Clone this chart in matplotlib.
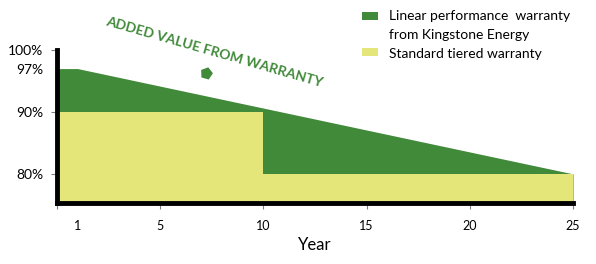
import matplotlib
matplotlib.use("Agg")
import matplotlib.pyplot as plt
from matplotlib.patches import Rectangle

# Data
linear_years = [0, 1, 25]
linear_values = [97, 97, 80]
tiered_years = [0, 10, 10, 25]
tiered_values = [90, 90, 80, 80]
x_tick_pos = [0, 5, 10, 15, 20, 25]
x_tick_labels = ["", "5", "10", "15", "20", "25"]
first_year_label = "1"
y_tick_pos = [80, 90, 97, 100]
y_tick_labels = ["80%", "90%", "97%", "100%"]
legend_labels = ["Linear performance  warranty", "from Kingstone Energy", "Standard tiered warranty"]

GREEN = "#418a3a"
YELLOW = "#e5e679"
FONT = ["Lato", "DejaVu Sans"]
plt.rcParams['font.family'] = FONT

W, H = 596, 264
fig = plt.figure(figsize=(W/100, H/100), dpi=100)
ax = fig.add_axes([57/W, 1-203/H, (573-57)/W, (203-50)/H])

ymin = 75.3
ax.fill_between(linear_years, ymin, linear_values, color=GREEN, lw=0, zorder=1)
ax.fill_between(tiered_years, ymin, tiered_values, color=YELLOW, lw=0, zorder=2)

ax.set_xlim(0, 25)
ax.set_ylim(ymin, 100)

for s in ["top", "right"]:
    ax.spines[s].set_visible(False)
for s in ["left", "bottom"]:
    ax.spines[s].set_linewidth(3.5)
    ax.spines[s].set_color("black")
    ax.spines[s].set_zorder(5)

ax.set_xticks(x_tick_pos)
ax.set_xticklabels(x_tick_labels, fontsize=9)
ax.tick_params(axis="x", which="major", length=4, width=0.8, color="#808080", direction="out", pad=8)
ax.set_xticks([1], minor=True)
ax.set_xticklabels([first_year_label], minor=True, fontsize=9)
ax.tick_params(axis="x", which="minor", length=0, pad=12)

ax.set_yticks(y_tick_pos)
ax.set_yticklabels(y_tick_labels, fontsize=10)
ax.tick_params(axis="y", length=4, width=0.8, color="#808080", pad=6)
ax.yaxis.get_major_ticks()[2].tick1line.set_visible(False)

ax.set_xlabel("Year", fontsize=12, labelpad=4)

# Annotation
fig.text(214/W, 1-52/H, "ADDED VALUE FROM WARRANTY", rotation=-16, rotation_mode="anchor",
         ha="center", va="center", fontsize=10, fontweight="bold", color=GREEN, family=FONT)
ax.plot([7.2], [96.3], marker=(5, 0, 200), markersize=8, color=GREEN, zorder=6, clip_on=False)

# Legend
fig.patches.append(Rectangle((362/W, 1-20/H), 16/W, 8/H, transform=fig.transFigure,
                             facecolor=GREEN, edgecolor="none"))
fig.patches.append(Rectangle((362/W, 1-56/H), 16/W, 8/H, transform=fig.transFigure,
                             facecolor=YELLOW, edgecolor="none"))
fig.text(389/W, 1-16/H, legend_labels[0], fontsize=10, va="center", ha="left")
fig.text(389/W, 1-35/H, legend_labels[1], fontsize=10, va="center", ha="left")
fig.text(389/W, 1-54/H, legend_labels[2], fontsize=10, va="center", ha="left")

fig.savefig("out.png", dpi=100)
